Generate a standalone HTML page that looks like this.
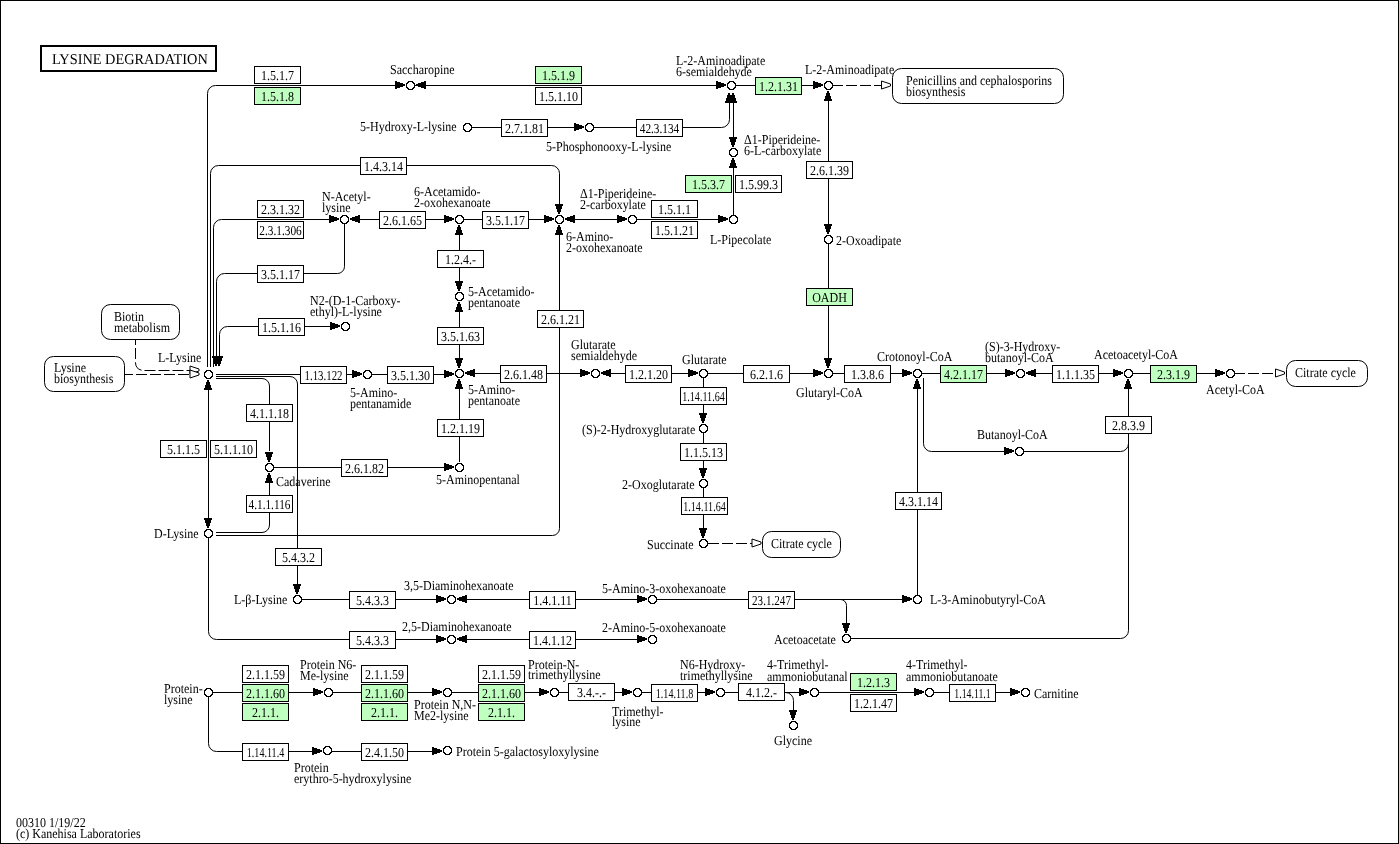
<!DOCTYPE html><html><head><meta charset="utf-8"><style>html,body{margin:0;padding:0;background:#fff;overflow:hidden}svg{display:block;will-change:transform}text{font-family:"Liberation Serif",serif;font-size:13.6px;fill:#000;text-rendering:geometricPrecision}</style></head><body>
<svg width="1399" height="844" viewBox="0 0 1399 844">
<rect x="0" y="0" width="1399" height="844" fill="#fff"/>
<rect x="0.5" y="0.5" width="1398" height="843" fill="none" stroke="#000" stroke-width="1"/>
<rect x="41" y="46" width="175" height="25" fill="none" stroke="#000" stroke-width="2"/>
<text transform="translate(52,64) scale(0.955,1)" style="font-size:15px">LYSINE DEGRADATION</text>
<g fill="none" stroke="#000" stroke-width="1">
<path d="M207.5,367 V93.5 A8,8 0 0 1 215.5,85.5 H396"/>
<path d="M210.5,367 V173.5 A8,8 0 0 1 218.5,165.5 H551.5 A8,8 0 0 1 559.5,173.5 V204"/>
<path d="M213.5,367 V227.5 A8,8 0 0 1 221.5,219.5 H330"/>
<path d="M216.5,358 V281.5 A8,8 0 0 1 224.5,273.5 H337.5 A7,7 0 0 0 344.5,266.5 V224"/>
<path d="M219.5,358 V334.5 A8,8 0 0 1 227.5,326.5 H331"/>
<path d="M415,85.5 H716"/>
<path d="M736,85.5 H813"/>
<path d="M472,127.5 H580"/>
<path d="M594,127.5 H721.5 A8,8 0 0 0 729.5,119.5 V101"/>
<path d="M733.5,101 V137"/>
<path d="M733.5,215 V167"/>
<path d="M574,219.5 H617"/>
<path d="M636.5,219.5 H718"/>
<path d="M360,219.5 H444"/>
<path d="M464,219.5 H544"/>
<path d="M459.5,234 V281"/>
<path d="M459.5,311 V358"/>
<path d="M216,374.5 H352"/>
<path d="M372,374.5 H444"/>
<path d="M474,373.5 H580"/>
<path d="M609,373.5 H688"/>
<path d="M708,373.5 H813"/>
<path d="M828.5,244 V358"/>
<path d="M828.5,100 V224"/>
<path d="M833,373.5 H902"/>
<path d="M922,373.5 H1005"/>
<path d="M1034,373.5 H1113"/>
<path d="M1133,373.5 H1215"/>
<path d="M923.5,378 V443.5 A8,8 0 0 0 931.5,451.5 H1004"/>
<path d="M1024,451.5 H1120.5 A8,8 0 0 0 1128.5,443.5 V388"/>
<path d="M851,638.5 H1120.5 A8,8 0 0 0 1128.5,630.5 V443"/>
<path d="M917.5,595 V388"/>
<path d="M703.5,378 V414"/>
<path d="M703.5,433 V469"/>
<path d="M703.5,488 V529"/>
<path d="M208.5,390 V518"/>
<path d="M216,378.5 H262 A7.5,7.5 0 0 1 269.5,386 V451"/>
<path d="M216,532.5 H262 A7.5,7.5 0 0 0 269.5,525 V483"/>
<path d="M274,467.5 H444"/>
<path d="M459.5,462 V389"/>
<path d="M216,376.5 H290 A7.5,7.5 0 0 1 297.5,384 V584"/>
<path d="M216,535.5 H552.5 A7,7 0 0 0 559.5,528.5 V234"/>
<path d="M302,599.5 H436"/>
<path d="M466,599.5 H637"/>
<path d="M657,599.5 H902"/>
<path d="M840.5,599.5 A6,6 0 0 1 846.5,605.5 V623"/>
<path d="M208.5,538 V631.5 A8,8 0 0 0 216.5,639.5 H436"/>
<path d="M466,639.5 H637"/>
<path d="M213,692.5 H313.5"/>
<path d="M333,692.5 H432.5"/>
<path d="M452,692.5 H539.5"/>
<path d="M559,692.5 H622.5"/>
<path d="M642,692.5 H705.5"/>
<path d="M725,692.5 H799.5"/>
<path d="M819,692.5 H914.5"/>
<path d="M934,692.5 H1010.5"/>
<path d="M785.5,692.5 A8,8 0 0 1 793.5,700.5 V710"/>
<path d="M208.5,697 V743.5 A8,8 0 0 0 216.5,751.5 H312"/>
<path d="M332,751.5 H432"/>
</g>
<g fill="none" stroke="#000" stroke-width="1" stroke-dasharray="11,3">
<path d="M832,85.5 H882"/>
<path d="M1234,373.5 H1276"/>
<path d="M708,543.5 H752.5"/>
<path d="M135.5,334 V362.5 A8,8 0 0 0 143.5,370.5 H190"/>
<path d="M122,374.5 H190"/>
</g>
<g fill="#000" shape-rendering="crispEdges">
<polygon points="212.00,356.00 220.00,356.00 217.00,366.00 215.00,366.00"/>
<polygon points="215.00,356.00 223.00,356.00 220.00,366.00 218.00,366.00"/>
<polygon points="395.00,81.00 395.00,89.00 405.00,86.00 405.00,84.00"/>
<polygon points="426.00,81.00 426.00,89.00 416.00,86.00 416.00,84.00"/>
<polygon points="716.00,81.00 716.00,89.00 726.00,86.00 726.00,84.00"/>
<polygon points="813.00,81.00 813.00,89.00 823.00,86.00 823.00,84.00"/>
<polygon points="574.00,123.00 574.00,131.00 584.00,128.00 584.00,126.00"/>
<polygon points="725.00,103.00 733.00,103.00 730.00,93.00 728.00,93.00"/>
<polygon points="729.00,103.00 737.00,103.00 734.00,93.00 732.00,93.00"/>
<polygon points="729.00,137.00 737.00,137.00 734.00,147.00 732.00,147.00"/>
<polygon points="729.00,168.00 737.00,168.00 734.00,158.00 732.00,158.00"/>
<polygon points="555.00,204.00 563.00,204.00 560.00,214.00 558.00,214.00"/>
<polygon points="575.00,215.00 575.00,223.00 565.00,220.00 565.00,218.00"/>
<polygon points="617.00,215.00 617.00,223.00 627.00,220.00 627.00,218.00"/>
<polygon points="718.00,215.00 718.00,223.00 728.00,220.00 728.00,218.00"/>
<polygon points="329.00,215.00 329.00,223.00 339.00,220.00 339.00,218.00"/>
<polygon points="360.00,215.00 360.00,223.00 350.00,220.00 350.00,218.00"/>
<polygon points="444.00,215.00 444.00,223.00 454.00,220.00 454.00,218.00"/>
<polygon points="544.00,215.00 544.00,223.00 554.00,220.00 554.00,218.00"/>
<polygon points="455.00,235.00 463.00,235.00 460.00,225.00 458.00,225.00"/>
<polygon points="455.00,281.00 463.00,281.00 460.00,291.00 458.00,291.00"/>
<polygon points="455.00,312.00 463.00,312.00 460.00,302.00 458.00,302.00"/>
<polygon points="455.00,358.00 463.00,358.00 460.00,368.00 458.00,368.00"/>
<polygon points="330.00,322.00 330.00,330.00 340.00,327.00 340.00,325.00"/>
<polygon points="352.00,370.00 352.00,378.00 362.00,375.00 362.00,373.00"/>
<polygon points="444.00,370.00 444.00,378.00 454.00,375.00 454.00,373.00"/>
<polygon points="475.00,369.00 475.00,377.00 465.00,374.00 465.00,372.00"/>
<polygon points="580.00,369.00 580.00,377.00 590.00,374.00 590.00,372.00"/>
<polygon points="611.00,369.00 611.00,377.00 601.00,374.00 601.00,372.00"/>
<polygon points="688.00,369.00 688.00,377.00 698.00,374.00 698.00,372.00"/>
<polygon points="813.00,369.00 813.00,377.00 823.00,374.00 823.00,372.00"/>
<polygon points="824.00,358.00 832.00,358.00 829.00,368.00 827.00,368.00"/>
<polygon points="824.00,101.00 832.00,101.00 829.00,91.00 827.00,91.00"/>
<polygon points="824.00,224.00 832.00,224.00 829.00,234.00 827.00,234.00"/>
<polygon points="902.00,369.00 902.00,377.00 912.00,374.00 912.00,372.00"/>
<polygon points="1005.00,369.00 1005.00,377.00 1015.00,374.00 1015.00,372.00"/>
<polygon points="1036.00,369.00 1036.00,377.00 1026.00,374.00 1026.00,372.00"/>
<polygon points="1113.00,369.00 1113.00,377.00 1123.00,374.00 1123.00,372.00"/>
<polygon points="1215.00,369.00 1215.00,377.00 1225.00,374.00 1225.00,372.00"/>
<polygon points="1004.00,447.00 1004.00,455.00 1014.00,452.00 1014.00,450.00"/>
<polygon points="1124.00,389.00 1132.00,389.00 1129.00,379.00 1127.00,379.00"/>
<polygon points="913.00,389.00 921.00,389.00 918.00,379.00 916.00,379.00"/>
<polygon points="699.00,413.00 707.00,413.00 704.00,423.00 702.00,423.00"/>
<polygon points="699.00,468.00 707.00,468.00 704.00,478.00 702.00,478.00"/>
<polygon points="699.00,528.00 707.00,528.00 704.00,538.00 702.00,538.00"/>
<polygon points="204.00,390.00 212.00,390.00 209.00,380.00 207.00,380.00"/>
<polygon points="204.00,518.00 212.00,518.00 209.00,528.00 207.00,528.00"/>
<polygon points="265.00,452.00 273.00,452.00 270.00,462.00 268.00,462.00"/>
<polygon points="265.00,483.00 273.00,483.00 270.00,473.00 268.00,473.00"/>
<polygon points="444.00,463.00 444.00,471.00 454.00,468.00 454.00,466.00"/>
<polygon points="455.00,389.00 463.00,389.00 460.00,379.00 458.00,379.00"/>
<polygon points="293.00,584.00 301.00,584.00 298.00,594.00 296.00,594.00"/>
<polygon points="555.00,235.00 563.00,235.00 560.00,225.00 558.00,225.00"/>
<polygon points="436.00,595.00 436.00,603.00 446.00,600.00 446.00,598.00"/>
<polygon points="467.00,595.00 467.00,603.00 457.00,600.00 457.00,598.00"/>
<polygon points="637.00,595.00 637.00,603.00 647.00,600.00 647.00,598.00"/>
<polygon points="902.00,595.00 902.00,603.00 912.00,600.00 912.00,598.00"/>
<polygon points="842.00,623.00 850.00,623.00 847.00,633.00 845.00,633.00"/>
<polygon points="436.00,635.00 436.00,643.00 446.00,640.00 446.00,638.00"/>
<polygon points="467.00,635.00 467.00,643.00 457.00,640.00 457.00,638.00"/>
<polygon points="637.00,635.00 637.00,643.00 647.00,640.00 647.00,638.00"/>
<polygon points="313.00,688.00 313.00,696.00 323.00,693.00 323.00,691.00"/>
<polygon points="432.00,688.00 432.00,696.00 442.00,693.00 442.00,691.00"/>
<polygon points="539.00,688.00 539.00,696.00 549.00,693.00 549.00,691.00"/>
<polygon points="622.00,688.00 622.00,696.00 632.00,693.00 632.00,691.00"/>
<polygon points="705.00,688.00 705.00,696.00 715.00,693.00 715.00,691.00"/>
<polygon points="799.00,688.00 799.00,696.00 809.00,693.00 809.00,691.00"/>
<polygon points="914.00,688.00 914.00,696.00 924.00,693.00 924.00,691.00"/>
<polygon points="1010.00,688.00 1010.00,696.00 1020.00,693.00 1020.00,691.00"/>
<polygon points="789.00,710.00 797.00,710.00 794.00,720.00 792.00,720.00"/>
<polygon points="312.00,747.00 312.00,755.00 322.00,752.00 322.00,750.00"/>
<polygon points="432.00,747.00 432.00,755.00 442.00,752.00 442.00,750.00"/>
</g>
<g fill="#fff" stroke="#000" stroke-width="1">
<polygon points="881.50,81.00 881.50,89.00 890.50,86.00 890.50,84.00"/>
<polygon points="1275.50,369.00 1275.50,377.00 1284.50,374.00 1284.50,372.00"/>
<polygon points="752.00,539.00 752.00,547.00 761.00,544.00 761.00,542.00"/>
<polygon points="190.00,366.00 190.00,374.00 199.00,371.00 199.00,369.00"/>
<polygon points="190.00,370.00 190.00,378.00 199.00,375.00 199.00,373.00"/>
<rect x="892.5" y="68.5" width="171.0" height="35.0" rx="9" ry="9"/>
<rect x="101.5" y="304.5" width="78.0" height="35.0" rx="9" ry="9"/>
<rect x="44.5" y="356.5" width="80.0" height="35.0" rx="9" ry="9"/>
<rect x="1286.5" y="360.5" width="81.0" height="26.0" rx="9" ry="9"/>
<rect x="762.5" y="531.5" width="78.0" height="26.0" rx="9" ry="9"/>
</g>
<g stroke="#000" stroke-width="1" shape-rendering="crispEdges">
<rect x="254.5" y="66.5" width="46" height="17" fill="#fff"/>
<rect x="254.5" y="87.5" width="46" height="17" fill="#bfffbf"/>
<rect x="535.5" y="66.5" width="46" height="17" fill="#bfffbf"/>
<rect x="535.5" y="87.5" width="46" height="17" fill="#fff"/>
<rect x="755.5" y="77.5" width="46" height="17" fill="#bfffbf"/>
<rect x="501.5" y="119.5" width="46" height="17" fill="#fff"/>
<rect x="636.5" y="119.5" width="46" height="17" fill="#fff"/>
<rect x="360.5" y="157.5" width="46" height="17" fill="#fff"/>
<rect x="685.5" y="175.5" width="46" height="17" fill="#bfffbf"/>
<rect x="735.5" y="175.5" width="46" height="17" fill="#fff"/>
<rect x="651.5" y="200.5" width="46" height="17" fill="#fff"/>
<rect x="651.5" y="221.5" width="46" height="17" fill="#fff"/>
<rect x="806.5" y="161.5" width="46" height="17" fill="#fff"/>
<rect x="257.5" y="200.5" width="46" height="17" fill="#fff"/>
<rect x="257.5" y="221.5" width="46" height="17" fill="#fff"/>
<rect x="257.5" y="265.5" width="46" height="17" fill="#fff"/>
<rect x="258.5" y="318.5" width="46" height="17" fill="#fff"/>
<rect x="379.5" y="211.5" width="46" height="17" fill="#fff"/>
<rect x="482.5" y="211.5" width="46" height="17" fill="#fff"/>
<rect x="437.5" y="250.5" width="46" height="17" fill="#fff"/>
<rect x="437.5" y="327.5" width="46" height="17" fill="#fff"/>
<rect x="387.5" y="366.5" width="46" height="17" fill="#fff"/>
<rect x="300.5" y="366.5" width="46" height="17" fill="#fff"/>
<rect x="537.5" y="310.5" width="46" height="17" fill="#fff"/>
<rect x="500.5" y="365.5" width="46" height="17" fill="#fff"/>
<rect x="625.5" y="365.5" width="46" height="17" fill="#fff"/>
<rect x="806.5" y="288.5" width="46" height="17" fill="#bfffbf"/>
<rect x="743.5" y="365.5" width="46" height="17" fill="#fff"/>
<rect x="844.5" y="365.5" width="46" height="17" fill="#fff"/>
<rect x="940.5" y="365.5" width="46" height="17" fill="#bfffbf"/>
<rect x="1052.5" y="365.5" width="46" height="17" fill="#fff"/>
<rect x="1150.5" y="365.5" width="46" height="17" fill="#bfffbf"/>
<rect x="1105.5" y="416.5" width="46" height="17" fill="#fff"/>
<rect x="680.5" y="387.5" width="46" height="17" fill="#fff"/>
<rect x="680.5" y="443.5" width="46" height="17" fill="#fff"/>
<rect x="681.5" y="497.5" width="46" height="17" fill="#fff"/>
<rect x="895.5" y="492.5" width="46" height="17" fill="#fff"/>
<rect x="246.5" y="404.5" width="46" height="17" fill="#fff"/>
<rect x="160.5" y="440.5" width="46" height="17" fill="#fff"/>
<rect x="210.5" y="440.5" width="46" height="17" fill="#fff"/>
<rect x="341.5" y="459.5" width="46" height="17" fill="#fff"/>
<rect x="437.5" y="419.5" width="46" height="17" fill="#fff"/>
<rect x="246.5" y="495.5" width="46" height="17" fill="#fff"/>
<rect x="275.5" y="548.5" width="46" height="17" fill="#fff"/>
<rect x="349.5" y="591.5" width="46" height="17" fill="#fff"/>
<rect x="529.5" y="591.5" width="46" height="17" fill="#fff"/>
<rect x="748.5" y="591.5" width="46" height="17" fill="#fff"/>
<rect x="349.5" y="631.5" width="46" height="17" fill="#fff"/>
<rect x="529.5" y="631.5" width="46" height="17" fill="#fff"/>
<rect x="242.5" y="665.5" width="46" height="17" fill="#fff"/>
<rect x="242.5" y="684.5" width="46" height="17" fill="#bfffbf"/>
<rect x="242.5" y="703.5" width="46" height="17" fill="#bfffbf"/>
<rect x="361.5" y="665.5" width="46" height="17" fill="#fff"/>
<rect x="361.5" y="684.5" width="46" height="17" fill="#bfffbf"/>
<rect x="361.5" y="703.5" width="46" height="17" fill="#bfffbf"/>
<rect x="478.5" y="665.5" width="46" height="17" fill="#fff"/>
<rect x="478.5" y="684.5" width="46" height="17" fill="#bfffbf"/>
<rect x="478.5" y="703.5" width="46" height="17" fill="#bfffbf"/>
<rect x="242.5" y="743.5" width="46" height="17" fill="#fff"/>
<rect x="361.5" y="743.5" width="46" height="17" fill="#fff"/>
<rect x="568.5" y="683.5" width="46" height="17" fill="#fff"/>
<rect x="651.5" y="684.5" width="46" height="17" fill="#fff"/>
<rect x="738.5" y="683.5" width="46" height="17" fill="#fff"/>
<rect x="850.5" y="673.5" width="46" height="17" fill="#bfffbf"/>
<rect x="850.5" y="694.5" width="46" height="17" fill="#fff"/>
<rect x="949.5" y="684.5" width="46" height="17" fill="#fff"/>
</g>
<g shape-rendering="crispEdges">
<g transform="translate(410,85)"><rect x="-3" y="-3" width="7" height="7" fill="#fff"/><path fill="#000" d="M-2,-4h5v1h-5z M-3,-3h2v1h-2z M2,-3h2v1h-2z M-4,-2h2v1h-2z M3,-2h2v1h-2z M-4,-1h1v3h-1z M4,-1h1v3h-1z M-4,2h2v1h-2z M3,2h2v1h-2z M-3,3h2v1h-2z M2,3h2v1h-2z M-2,4h5v1h-5z"/></g>
<g transform="translate(467,127)"><rect x="-3" y="-3" width="7" height="7" fill="#fff"/><path fill="#000" d="M-2,-4h5v1h-5z M-3,-3h2v1h-2z M2,-3h2v1h-2z M-4,-2h2v1h-2z M3,-2h2v1h-2z M-4,-1h1v3h-1z M4,-1h1v3h-1z M-4,2h2v1h-2z M3,2h2v1h-2z M-3,3h2v1h-2z M2,3h2v1h-2z M-2,4h5v1h-5z"/></g>
<g transform="translate(589,127)"><rect x="-3" y="-3" width="7" height="7" fill="#fff"/><path fill="#000" d="M-2,-4h5v1h-5z M-3,-3h2v1h-2z M2,-3h2v1h-2z M-4,-2h2v1h-2z M3,-2h2v1h-2z M-4,-1h1v3h-1z M4,-1h1v3h-1z M-4,2h2v1h-2z M3,2h2v1h-2z M-3,3h2v1h-2z M2,3h2v1h-2z M-2,4h5v1h-5z"/></g>
<g transform="translate(731,85)"><rect x="-3" y="-3" width="7" height="7" fill="#fff"/><path fill="#000" d="M-2,-4h5v1h-5z M-3,-3h2v1h-2z M2,-3h2v1h-2z M-4,-2h2v1h-2z M3,-2h2v1h-2z M-4,-1h1v3h-1z M4,-1h1v3h-1z M-4,2h2v1h-2z M3,2h2v1h-2z M-3,3h2v1h-2z M2,3h2v1h-2z M-2,4h5v1h-5z"/></g>
<g transform="translate(828,85)"><rect x="-3" y="-3" width="7" height="7" fill="#fff"/><path fill="#000" d="M-2,-4h5v1h-5z M-3,-3h2v1h-2z M2,-3h2v1h-2z M-4,-2h2v1h-2z M3,-2h2v1h-2z M-4,-1h1v3h-1z M4,-1h1v3h-1z M-4,2h2v1h-2z M3,2h2v1h-2z M-3,3h2v1h-2z M2,3h2v1h-2z M-2,4h5v1h-5z"/></g>
<g transform="translate(733,152)"><rect x="-3" y="-3" width="7" height="7" fill="#fff"/><path fill="#000" d="M-2,-4h5v1h-5z M-3,-3h2v1h-2z M2,-3h2v1h-2z M-4,-2h2v1h-2z M3,-2h2v1h-2z M-4,-1h1v3h-1z M4,-1h1v3h-1z M-4,2h2v1h-2z M3,2h2v1h-2z M-3,3h2v1h-2z M2,3h2v1h-2z M-2,4h5v1h-5z"/></g>
<g transform="translate(733,219)"><rect x="-3" y="-3" width="7" height="7" fill="#fff"/><path fill="#000" d="M-2,-4h5v1h-5z M-3,-3h2v1h-2z M2,-3h2v1h-2z M-4,-2h2v1h-2z M3,-2h2v1h-2z M-4,-1h1v3h-1z M4,-1h1v3h-1z M-4,2h2v1h-2z M3,2h2v1h-2z M-3,3h2v1h-2z M2,3h2v1h-2z M-2,4h5v1h-5z"/></g>
<g transform="translate(632,219)"><rect x="-3" y="-3" width="7" height="7" fill="#fff"/><path fill="#000" d="M-2,-4h5v1h-5z M-3,-3h2v1h-2z M2,-3h2v1h-2z M-4,-2h2v1h-2z M3,-2h2v1h-2z M-4,-1h1v3h-1z M4,-1h1v3h-1z M-4,2h2v1h-2z M3,2h2v1h-2z M-3,3h2v1h-2z M2,3h2v1h-2z M-2,4h5v1h-5z"/></g>
<g transform="translate(559,219)"><rect x="-3" y="-3" width="7" height="7" fill="#fff"/><path fill="#000" d="M-2,-4h5v1h-5z M-3,-3h2v1h-2z M2,-3h2v1h-2z M-4,-2h2v1h-2z M3,-2h2v1h-2z M-4,-1h1v3h-1z M4,-1h1v3h-1z M-4,2h2v1h-2z M3,2h2v1h-2z M-3,3h2v1h-2z M2,3h2v1h-2z M-2,4h5v1h-5z"/></g>
<g transform="translate(828,239)"><rect x="-3" y="-3" width="7" height="7" fill="#fff"/><path fill="#000" d="M-2,-4h5v1h-5z M-3,-3h2v1h-2z M2,-3h2v1h-2z M-4,-2h2v1h-2z M3,-2h2v1h-2z M-4,-1h1v3h-1z M4,-1h1v3h-1z M-4,2h2v1h-2z M3,2h2v1h-2z M-3,3h2v1h-2z M2,3h2v1h-2z M-2,4h5v1h-5z"/></g>
<g transform="translate(344,219)"><rect x="-3" y="-3" width="7" height="7" fill="#fff"/><path fill="#000" d="M-2,-4h5v1h-5z M-3,-3h2v1h-2z M2,-3h2v1h-2z M-4,-2h2v1h-2z M3,-2h2v1h-2z M-4,-1h1v3h-1z M4,-1h1v3h-1z M-4,2h2v1h-2z M3,2h2v1h-2z M-3,3h2v1h-2z M2,3h2v1h-2z M-2,4h5v1h-5z"/></g>
<g transform="translate(459,219)"><rect x="-3" y="-3" width="7" height="7" fill="#fff"/><path fill="#000" d="M-2,-4h5v1h-5z M-3,-3h2v1h-2z M2,-3h2v1h-2z M-4,-2h2v1h-2z M3,-2h2v1h-2z M-4,-1h1v3h-1z M4,-1h1v3h-1z M-4,2h2v1h-2z M3,2h2v1h-2z M-3,3h2v1h-2z M2,3h2v1h-2z M-2,4h5v1h-5z"/></g>
<g transform="translate(459,296)"><rect x="-3" y="-3" width="7" height="7" fill="#fff"/><path fill="#000" d="M-2,-4h5v1h-5z M-3,-3h2v1h-2z M2,-3h2v1h-2z M-4,-2h2v1h-2z M3,-2h2v1h-2z M-4,-1h1v3h-1z M4,-1h1v3h-1z M-4,2h2v1h-2z M3,2h2v1h-2z M-3,3h2v1h-2z M2,3h2v1h-2z M-2,4h5v1h-5z"/></g>
<g transform="translate(345,326)"><rect x="-3" y="-3" width="7" height="7" fill="#fff"/><path fill="#000" d="M-2,-4h5v1h-5z M-3,-3h2v1h-2z M2,-3h2v1h-2z M-4,-2h2v1h-2z M3,-2h2v1h-2z M-4,-1h1v3h-1z M4,-1h1v3h-1z M-4,2h2v1h-2z M3,2h2v1h-2z M-3,3h2v1h-2z M2,3h2v1h-2z M-2,4h5v1h-5z"/></g>
<g transform="translate(208,374)"><rect x="-3" y="-3" width="7" height="7" fill="#fff"/><path fill="#000" d="M-2,-4h5v1h-5z M-3,-3h2v1h-2z M2,-3h2v1h-2z M-4,-2h2v1h-2z M3,-2h2v1h-2z M-4,-1h1v3h-1z M4,-1h1v3h-1z M-4,2h2v1h-2z M3,2h2v1h-2z M-3,3h2v1h-2z M2,3h2v1h-2z M-2,4h5v1h-5z"/></g>
<g transform="translate(367,374)"><rect x="-3" y="-3" width="7" height="7" fill="#fff"/><path fill="#000" d="M-2,-4h5v1h-5z M-3,-3h2v1h-2z M2,-3h2v1h-2z M-4,-2h2v1h-2z M3,-2h2v1h-2z M-4,-1h1v3h-1z M4,-1h1v3h-1z M-4,2h2v1h-2z M3,2h2v1h-2z M-3,3h2v1h-2z M2,3h2v1h-2z M-2,4h5v1h-5z"/></g>
<g transform="translate(459,373)"><rect x="-3" y="-3" width="7" height="7" fill="#fff"/><path fill="#000" d="M-2,-4h5v1h-5z M-3,-3h2v1h-2z M2,-3h2v1h-2z M-4,-2h2v1h-2z M3,-2h2v1h-2z M-4,-1h1v3h-1z M4,-1h1v3h-1z M-4,2h2v1h-2z M3,2h2v1h-2z M-3,3h2v1h-2z M2,3h2v1h-2z M-2,4h5v1h-5z"/></g>
<g transform="translate(595,373)"><rect x="-3" y="-3" width="7" height="7" fill="#fff"/><path fill="#000" d="M-2,-4h5v1h-5z M-3,-3h2v1h-2z M2,-3h2v1h-2z M-4,-2h2v1h-2z M3,-2h2v1h-2z M-4,-1h1v3h-1z M4,-1h1v3h-1z M-4,2h2v1h-2z M3,2h2v1h-2z M-3,3h2v1h-2z M2,3h2v1h-2z M-2,4h5v1h-5z"/></g>
<g transform="translate(703,373)"><rect x="-3" y="-3" width="7" height="7" fill="#fff"/><path fill="#000" d="M-2,-4h5v1h-5z M-3,-3h2v1h-2z M2,-3h2v1h-2z M-4,-2h2v1h-2z M3,-2h2v1h-2z M-4,-1h1v3h-1z M4,-1h1v3h-1z M-4,2h2v1h-2z M3,2h2v1h-2z M-3,3h2v1h-2z M2,3h2v1h-2z M-2,4h5v1h-5z"/></g>
<g transform="translate(828,373)"><rect x="-3" y="-3" width="7" height="7" fill="#fff"/><path fill="#000" d="M-2,-4h5v1h-5z M-3,-3h2v1h-2z M2,-3h2v1h-2z M-4,-2h2v1h-2z M3,-2h2v1h-2z M-4,-1h1v3h-1z M4,-1h1v3h-1z M-4,2h2v1h-2z M3,2h2v1h-2z M-3,3h2v1h-2z M2,3h2v1h-2z M-2,4h5v1h-5z"/></g>
<g transform="translate(917,373)"><rect x="-3" y="-3" width="7" height="7" fill="#fff"/><path fill="#000" d="M-2,-4h5v1h-5z M-3,-3h2v1h-2z M2,-3h2v1h-2z M-4,-2h2v1h-2z M3,-2h2v1h-2z M-4,-1h1v3h-1z M4,-1h1v3h-1z M-4,2h2v1h-2z M3,2h2v1h-2z M-3,3h2v1h-2z M2,3h2v1h-2z M-2,4h5v1h-5z"/></g>
<g transform="translate(1020,373)"><rect x="-3" y="-3" width="7" height="7" fill="#fff"/><path fill="#000" d="M-2,-4h5v1h-5z M-3,-3h2v1h-2z M2,-3h2v1h-2z M-4,-2h2v1h-2z M3,-2h2v1h-2z M-4,-1h1v3h-1z M4,-1h1v3h-1z M-4,2h2v1h-2z M3,2h2v1h-2z M-3,3h2v1h-2z M2,3h2v1h-2z M-2,4h5v1h-5z"/></g>
<g transform="translate(1128,373)"><rect x="-3" y="-3" width="7" height="7" fill="#fff"/><path fill="#000" d="M-2,-4h5v1h-5z M-3,-3h2v1h-2z M2,-3h2v1h-2z M-4,-2h2v1h-2z M3,-2h2v1h-2z M-4,-1h1v3h-1z M4,-1h1v3h-1z M-4,2h2v1h-2z M3,2h2v1h-2z M-3,3h2v1h-2z M2,3h2v1h-2z M-2,4h5v1h-5z"/></g>
<g transform="translate(1230,373)"><rect x="-3" y="-3" width="7" height="7" fill="#fff"/><path fill="#000" d="M-2,-4h5v1h-5z M-3,-3h2v1h-2z M2,-3h2v1h-2z M-4,-2h2v1h-2z M3,-2h2v1h-2z M-4,-1h1v3h-1z M4,-1h1v3h-1z M-4,2h2v1h-2z M3,2h2v1h-2z M-3,3h2v1h-2z M2,3h2v1h-2z M-2,4h5v1h-5z"/></g>
<g transform="translate(1019,451)"><rect x="-3" y="-3" width="7" height="7" fill="#fff"/><path fill="#000" d="M-2,-4h5v1h-5z M-3,-3h2v1h-2z M2,-3h2v1h-2z M-4,-2h2v1h-2z M3,-2h2v1h-2z M-4,-1h1v3h-1z M4,-1h1v3h-1z M-4,2h2v1h-2z M3,2h2v1h-2z M-3,3h2v1h-2z M2,3h2v1h-2z M-2,4h5v1h-5z"/></g>
<g transform="translate(703,428)"><rect x="-3" y="-3" width="7" height="7" fill="#fff"/><path fill="#000" d="M-2,-4h5v1h-5z M-3,-3h2v1h-2z M2,-3h2v1h-2z M-4,-2h2v1h-2z M3,-2h2v1h-2z M-4,-1h1v3h-1z M4,-1h1v3h-1z M-4,2h2v1h-2z M3,2h2v1h-2z M-3,3h2v1h-2z M2,3h2v1h-2z M-2,4h5v1h-5z"/></g>
<g transform="translate(703,483)"><rect x="-3" y="-3" width="7" height="7" fill="#fff"/><path fill="#000" d="M-2,-4h5v1h-5z M-3,-3h2v1h-2z M2,-3h2v1h-2z M-4,-2h2v1h-2z M3,-2h2v1h-2z M-4,-1h1v3h-1z M4,-1h1v3h-1z M-4,2h2v1h-2z M3,2h2v1h-2z M-3,3h2v1h-2z M2,3h2v1h-2z M-2,4h5v1h-5z"/></g>
<g transform="translate(703,543)"><rect x="-3" y="-3" width="7" height="7" fill="#fff"/><path fill="#000" d="M-2,-4h5v1h-5z M-3,-3h2v1h-2z M2,-3h2v1h-2z M-4,-2h2v1h-2z M3,-2h2v1h-2z M-4,-1h1v3h-1z M4,-1h1v3h-1z M-4,2h2v1h-2z M3,2h2v1h-2z M-3,3h2v1h-2z M2,3h2v1h-2z M-2,4h5v1h-5z"/></g>
<g transform="translate(269,467)"><rect x="-3" y="-3" width="7" height="7" fill="#fff"/><path fill="#000" d="M-2,-4h5v1h-5z M-3,-3h2v1h-2z M2,-3h2v1h-2z M-4,-2h2v1h-2z M3,-2h2v1h-2z M-4,-1h1v3h-1z M4,-1h1v3h-1z M-4,2h2v1h-2z M3,2h2v1h-2z M-3,3h2v1h-2z M2,3h2v1h-2z M-2,4h5v1h-5z"/></g>
<g transform="translate(459,467)"><rect x="-3" y="-3" width="7" height="7" fill="#fff"/><path fill="#000" d="M-2,-4h5v1h-5z M-3,-3h2v1h-2z M2,-3h2v1h-2z M-4,-2h2v1h-2z M3,-2h2v1h-2z M-4,-1h1v3h-1z M4,-1h1v3h-1z M-4,2h2v1h-2z M3,2h2v1h-2z M-3,3h2v1h-2z M2,3h2v1h-2z M-2,4h5v1h-5z"/></g>
<g transform="translate(208,533)"><rect x="-3" y="-3" width="7" height="7" fill="#fff"/><path fill="#000" d="M-2,-4h5v1h-5z M-3,-3h2v1h-2z M2,-3h2v1h-2z M-4,-2h2v1h-2z M3,-2h2v1h-2z M-4,-1h1v3h-1z M4,-1h1v3h-1z M-4,2h2v1h-2z M3,2h2v1h-2z M-3,3h2v1h-2z M2,3h2v1h-2z M-2,4h5v1h-5z"/></g>
<g transform="translate(297,599)"><rect x="-3" y="-3" width="7" height="7" fill="#fff"/><path fill="#000" d="M-2,-4h5v1h-5z M-3,-3h2v1h-2z M2,-3h2v1h-2z M-4,-2h2v1h-2z M3,-2h2v1h-2z M-4,-1h1v3h-1z M4,-1h1v3h-1z M-4,2h2v1h-2z M3,2h2v1h-2z M-3,3h2v1h-2z M2,3h2v1h-2z M-2,4h5v1h-5z"/></g>
<g transform="translate(451,599)"><rect x="-3" y="-3" width="7" height="7" fill="#fff"/><path fill="#000" d="M-2,-4h5v1h-5z M-3,-3h2v1h-2z M2,-3h2v1h-2z M-4,-2h2v1h-2z M3,-2h2v1h-2z M-4,-1h1v3h-1z M4,-1h1v3h-1z M-4,2h2v1h-2z M3,2h2v1h-2z M-3,3h2v1h-2z M2,3h2v1h-2z M-2,4h5v1h-5z"/></g>
<g transform="translate(652,599)"><rect x="-3" y="-3" width="7" height="7" fill="#fff"/><path fill="#000" d="M-2,-4h5v1h-5z M-3,-3h2v1h-2z M2,-3h2v1h-2z M-4,-2h2v1h-2z M3,-2h2v1h-2z M-4,-1h1v3h-1z M4,-1h1v3h-1z M-4,2h2v1h-2z M3,2h2v1h-2z M-3,3h2v1h-2z M2,3h2v1h-2z M-2,4h5v1h-5z"/></g>
<g transform="translate(917,599)"><rect x="-3" y="-3" width="7" height="7" fill="#fff"/><path fill="#000" d="M-2,-4h5v1h-5z M-3,-3h2v1h-2z M2,-3h2v1h-2z M-4,-2h2v1h-2z M3,-2h2v1h-2z M-4,-1h1v3h-1z M4,-1h1v3h-1z M-4,2h2v1h-2z M3,2h2v1h-2z M-3,3h2v1h-2z M2,3h2v1h-2z M-2,4h5v1h-5z"/></g>
<g transform="translate(451,639)"><rect x="-3" y="-3" width="7" height="7" fill="#fff"/><path fill="#000" d="M-2,-4h5v1h-5z M-3,-3h2v1h-2z M2,-3h2v1h-2z M-4,-2h2v1h-2z M3,-2h2v1h-2z M-4,-1h1v3h-1z M4,-1h1v3h-1z M-4,2h2v1h-2z M3,2h2v1h-2z M-3,3h2v1h-2z M2,3h2v1h-2z M-2,4h5v1h-5z"/></g>
<g transform="translate(652,639)"><rect x="-3" y="-3" width="7" height="7" fill="#fff"/><path fill="#000" d="M-2,-4h5v1h-5z M-3,-3h2v1h-2z M2,-3h2v1h-2z M-4,-2h2v1h-2z M3,-2h2v1h-2z M-4,-1h1v3h-1z M4,-1h1v3h-1z M-4,2h2v1h-2z M3,2h2v1h-2z M-3,3h2v1h-2z M2,3h2v1h-2z M-2,4h5v1h-5z"/></g>
<g transform="translate(846,638)"><rect x="-3" y="-3" width="7" height="7" fill="#fff"/><path fill="#000" d="M-2,-4h5v1h-5z M-3,-3h2v1h-2z M2,-3h2v1h-2z M-4,-2h2v1h-2z M3,-2h2v1h-2z M-4,-1h1v3h-1z M4,-1h1v3h-1z M-4,2h2v1h-2z M3,2h2v1h-2z M-3,3h2v1h-2z M2,3h2v1h-2z M-2,4h5v1h-5z"/></g>
<g transform="translate(208,692)"><rect x="-3" y="-3" width="7" height="7" fill="#fff"/><path fill="#000" d="M-2,-4h5v1h-5z M-3,-3h2v1h-2z M2,-3h2v1h-2z M-4,-2h2v1h-2z M3,-2h2v1h-2z M-4,-1h1v3h-1z M4,-1h1v3h-1z M-4,2h2v1h-2z M3,2h2v1h-2z M-3,3h2v1h-2z M2,3h2v1h-2z M-2,4h5v1h-5z"/></g>
<g transform="translate(328,692)"><rect x="-3" y="-3" width="7" height="7" fill="#fff"/><path fill="#000" d="M-2,-4h5v1h-5z M-3,-3h2v1h-2z M2,-3h2v1h-2z M-4,-2h2v1h-2z M3,-2h2v1h-2z M-4,-1h1v3h-1z M4,-1h1v3h-1z M-4,2h2v1h-2z M3,2h2v1h-2z M-3,3h2v1h-2z M2,3h2v1h-2z M-2,4h5v1h-5z"/></g>
<g transform="translate(447,692)"><rect x="-3" y="-3" width="7" height="7" fill="#fff"/><path fill="#000" d="M-2,-4h5v1h-5z M-3,-3h2v1h-2z M2,-3h2v1h-2z M-4,-2h2v1h-2z M3,-2h2v1h-2z M-4,-1h1v3h-1z M4,-1h1v3h-1z M-4,2h2v1h-2z M3,2h2v1h-2z M-3,3h2v1h-2z M2,3h2v1h-2z M-2,4h5v1h-5z"/></g>
<g transform="translate(554,692)"><rect x="-3" y="-3" width="7" height="7" fill="#fff"/><path fill="#000" d="M-2,-4h5v1h-5z M-3,-3h2v1h-2z M2,-3h2v1h-2z M-4,-2h2v1h-2z M3,-2h2v1h-2z M-4,-1h1v3h-1z M4,-1h1v3h-1z M-4,2h2v1h-2z M3,2h2v1h-2z M-3,3h2v1h-2z M2,3h2v1h-2z M-2,4h5v1h-5z"/></g>
<g transform="translate(637,692)"><rect x="-3" y="-3" width="7" height="7" fill="#fff"/><path fill="#000" d="M-2,-4h5v1h-5z M-3,-3h2v1h-2z M2,-3h2v1h-2z M-4,-2h2v1h-2z M3,-2h2v1h-2z M-4,-1h1v3h-1z M4,-1h1v3h-1z M-4,2h2v1h-2z M3,2h2v1h-2z M-3,3h2v1h-2z M2,3h2v1h-2z M-2,4h5v1h-5z"/></g>
<g transform="translate(720,692)"><rect x="-3" y="-3" width="7" height="7" fill="#fff"/><path fill="#000" d="M-2,-4h5v1h-5z M-3,-3h2v1h-2z M2,-3h2v1h-2z M-4,-2h2v1h-2z M3,-2h2v1h-2z M-4,-1h1v3h-1z M4,-1h1v3h-1z M-4,2h2v1h-2z M3,2h2v1h-2z M-3,3h2v1h-2z M2,3h2v1h-2z M-2,4h5v1h-5z"/></g>
<g transform="translate(814,692)"><rect x="-3" y="-3" width="7" height="7" fill="#fff"/><path fill="#000" d="M-2,-4h5v1h-5z M-3,-3h2v1h-2z M2,-3h2v1h-2z M-4,-2h2v1h-2z M3,-2h2v1h-2z M-4,-1h1v3h-1z M4,-1h1v3h-1z M-4,2h2v1h-2z M3,2h2v1h-2z M-3,3h2v1h-2z M2,3h2v1h-2z M-2,4h5v1h-5z"/></g>
<g transform="translate(793,725)"><rect x="-3" y="-3" width="7" height="7" fill="#fff"/><path fill="#000" d="M-2,-4h5v1h-5z M-3,-3h2v1h-2z M2,-3h2v1h-2z M-4,-2h2v1h-2z M3,-2h2v1h-2z M-4,-1h1v3h-1z M4,-1h1v3h-1z M-4,2h2v1h-2z M3,2h2v1h-2z M-3,3h2v1h-2z M2,3h2v1h-2z M-2,4h5v1h-5z"/></g>
<g transform="translate(929,692)"><rect x="-3" y="-3" width="7" height="7" fill="#fff"/><path fill="#000" d="M-2,-4h5v1h-5z M-3,-3h2v1h-2z M2,-3h2v1h-2z M-4,-2h2v1h-2z M3,-2h2v1h-2z M-4,-1h1v3h-1z M4,-1h1v3h-1z M-4,2h2v1h-2z M3,2h2v1h-2z M-3,3h2v1h-2z M2,3h2v1h-2z M-2,4h5v1h-5z"/></g>
<g transform="translate(1025,692)"><rect x="-3" y="-3" width="7" height="7" fill="#fff"/><path fill="#000" d="M-2,-4h5v1h-5z M-3,-3h2v1h-2z M2,-3h2v1h-2z M-4,-2h2v1h-2z M3,-2h2v1h-2z M-4,-1h1v3h-1z M4,-1h1v3h-1z M-4,2h2v1h-2z M3,2h2v1h-2z M-3,3h2v1h-2z M2,3h2v1h-2z M-2,4h5v1h-5z"/></g>
<g transform="translate(327,750)"><rect x="-3" y="-3" width="7" height="7" fill="#fff"/><path fill="#000" d="M-2,-4h5v1h-5z M-3,-3h2v1h-2z M2,-3h2v1h-2z M-4,-2h2v1h-2z M3,-2h2v1h-2z M-4,-1h1v3h-1z M4,-1h1v3h-1z M-4,2h2v1h-2z M3,2h2v1h-2z M-3,3h2v1h-2z M2,3h2v1h-2z M-2,4h5v1h-5z"/></g>
<g transform="translate(447,750)"><rect x="-3" y="-3" width="7" height="7" fill="#fff"/><path fill="#000" d="M-2,-4h5v1h-5z M-3,-3h2v1h-2z M2,-3h2v1h-2z M-4,-2h2v1h-2z M3,-2h2v1h-2z M-4,-1h1v3h-1z M4,-1h1v3h-1z M-4,2h2v1h-2z M3,2h2v1h-2z M-3,3h2v1h-2z M2,3h2v1h-2z M-2,4h5v1h-5z"/></g>
</g>
<g>
<text transform="translate(277.5,80) scale(0.8824,1.0)" text-anchor="middle" style="font-size:13.6px">1.5.1.7</text>
<text transform="translate(277.5,101) scale(0.8824,1.0)" text-anchor="middle" style="font-size:13.6px">1.5.1.8</text>
<text transform="translate(558.5,80) scale(0.8824,1.0)" text-anchor="middle" style="font-size:13.6px">1.5.1.9</text>
<text transform="translate(558.5,101) scale(0.8824,1.0)" text-anchor="middle" style="font-size:13.6px">1.5.1.10</text>
<text transform="translate(778.5,91) scale(0.8824,1.0)" text-anchor="middle" style="font-size:13.6px">1.2.1.31</text>
<text transform="translate(524.5,133) scale(0.8824,1.0)" text-anchor="middle" style="font-size:13.6px">2.7.1.81</text>
<text transform="translate(659.5,133) scale(0.8298,1.0)" text-anchor="middle" style="font-size:13.6px">42.3.134</text>
<text transform="translate(383.5,171) scale(0.8824,1.0)" text-anchor="middle" style="font-size:13.6px">1.4.3.14</text>
<text transform="translate(708.5,189) scale(0.8824,1.0)" text-anchor="middle" style="font-size:13.6px">1.5.3.7</text>
<text transform="translate(758.5,189) scale(0.8824,1.0)" text-anchor="middle" style="font-size:13.6px">1.5.99.3</text>
<text transform="translate(674.5,214) scale(0.8824,1.0)" text-anchor="middle" style="font-size:13.6px">1.5.1.1</text>
<text transform="translate(674.5,235) scale(0.8824,1.0)" text-anchor="middle" style="font-size:13.6px">1.5.1.21</text>
<text transform="translate(829.5,175) scale(0.8824,1.0)" text-anchor="middle" style="font-size:13.6px">2.6.1.39</text>
<text transform="translate(280.5,214) scale(0.8824,1.0)" text-anchor="middle" style="font-size:13.6px">2.3.1.32</text>
<text transform="translate(280.5,235) scale(0.8333,1.0)" text-anchor="middle" style="font-size:13.6px">2.3.1.306</text>
<text transform="translate(280.5,279) scale(0.8824,1.0)" text-anchor="middle" style="font-size:13.6px">3.5.1.17</text>
<text transform="translate(281.5,332) scale(0.8824,1.0)" text-anchor="middle" style="font-size:13.6px">1.5.1.16</text>
<text transform="translate(402.5,225) scale(0.8824,1.0)" text-anchor="middle" style="font-size:13.6px">2.6.1.65</text>
<text transform="translate(505.5,225) scale(0.8824,1.0)" text-anchor="middle" style="font-size:13.6px">3.5.1.17</text>
<text transform="translate(460.5,264) scale(0.8824,1.0)" text-anchor="middle" style="font-size:13.6px">1.2.4.-</text>
<text transform="translate(460.5,341) scale(0.8824,1.0)" text-anchor="middle" style="font-size:13.6px">3.5.1.63</text>
<text transform="translate(410.5,380) scale(0.8824,1.0)" text-anchor="middle" style="font-size:13.6px">3.5.1.30</text>
<text transform="translate(323.5,380) scale(0.7983,1.0)" text-anchor="middle" style="font-size:13.6px">1.13.122</text>
<text transform="translate(560.5,324) scale(0.8824,1.0)" text-anchor="middle" style="font-size:13.6px">2.6.1.21</text>
<text transform="translate(523.5,379) scale(0.8824,1.0)" text-anchor="middle" style="font-size:13.6px">2.6.1.48</text>
<text transform="translate(648.5,379) scale(0.8824,1.0)" text-anchor="middle" style="font-size:13.6px">1.2.1.20</text>
<text transform="translate(829.5,302) scale(0.8824,1.0)" text-anchor="middle" style="font-size:13.6px">OADH</text>
<text transform="translate(766.5,379) scale(0.8824,1.0)" text-anchor="middle" style="font-size:13.6px">6.2.1.6</text>
<text transform="translate(867.5,379) scale(0.8824,1.0)" text-anchor="middle" style="font-size:13.6px">1.3.8.6</text>
<text transform="translate(963.5,379) scale(0.8824,1.0)" text-anchor="middle" style="font-size:13.6px">4.2.1.17</text>
<text transform="translate(1075.5,379) scale(0.8824,1.0)" text-anchor="middle" style="font-size:13.6px">1.1.1.35</text>
<text transform="translate(1173.5,379) scale(0.8824,1.0)" text-anchor="middle" style="font-size:13.6px">2.3.1.9</text>
<text transform="translate(1128.5,430) scale(0.8824,1.0)" text-anchor="middle" style="font-size:13.6px">2.8.3.9</text>
<text transform="translate(703.5,401) scale(0.7416,1.0)" text-anchor="middle" style="font-size:13.6px">1.14.11.64</text>
<text transform="translate(703.5,457) scale(0.8824,1.0)" text-anchor="middle" style="font-size:13.6px">1.1.5.13</text>
<text transform="translate(704.5,511) scale(0.7416,1.0)" text-anchor="middle" style="font-size:13.6px">1.14.11.64</text>
<text transform="translate(918.5,506) scale(0.8824,1.0)" text-anchor="middle" style="font-size:13.6px">4.3.1.14</text>
<text transform="translate(269.5,418) scale(0.8824,1.0)" text-anchor="middle" style="font-size:13.6px">4.1.1.18</text>
<text transform="translate(183.5,454) scale(0.8824,1.0)" text-anchor="middle" style="font-size:13.6px">5.1.1.5</text>
<text transform="translate(233.5,454) scale(0.8824,1.0)" text-anchor="middle" style="font-size:13.6px">5.1.1.10</text>
<text transform="translate(364.5,473) scale(0.8824,1.0)" text-anchor="middle" style="font-size:13.6px">2.6.1.82</text>
<text transform="translate(460.5,433) scale(0.8824,1.0)" text-anchor="middle" style="font-size:13.6px">1.2.1.19</text>
<text transform="translate(269.5,509) scale(0.8315,1.0)" text-anchor="middle" style="font-size:13.6px">4.1.1.116</text>
<text transform="translate(298.5,562) scale(0.8824,1.0)" text-anchor="middle" style="font-size:13.6px">5.4.3.2</text>
<text transform="translate(372.5,605) scale(0.8824,1.0)" text-anchor="middle" style="font-size:13.6px">5.4.3.3</text>
<text transform="translate(552.5,605) scale(0.8824,1.0)" text-anchor="middle" style="font-size:13.6px">1.4.1.11</text>
<text transform="translate(771.5,605) scale(0.8193,1.0)" text-anchor="middle" style="font-size:13.6px">23.1.247</text>
<text transform="translate(372.5,645) scale(0.8824,1.0)" text-anchor="middle" style="font-size:13.6px">5.4.3.3</text>
<text transform="translate(552.5,645) scale(0.8824,1.0)" text-anchor="middle" style="font-size:13.6px">1.4.1.12</text>
<text transform="translate(265.5,679) scale(0.8824,1.0)" text-anchor="middle" style="font-size:13.6px">2.1.1.59</text>
<text transform="translate(265.5,698) scale(0.8824,1.0)" text-anchor="middle" style="font-size:13.6px">2.1.1.60</text>
<text transform="translate(265.5,717) scale(0.8824,1.0)" text-anchor="middle" style="font-size:13.6px">2.1.1.</text>
<text transform="translate(384.5,679) scale(0.8824,1.0)" text-anchor="middle" style="font-size:13.6px">2.1.1.59</text>
<text transform="translate(384.5,698) scale(0.8824,1.0)" text-anchor="middle" style="font-size:13.6px">2.1.1.60</text>
<text transform="translate(384.5,717) scale(0.8824,1.0)" text-anchor="middle" style="font-size:13.6px">2.1.1.</text>
<text transform="translate(501.5,679) scale(0.8824,1.0)" text-anchor="middle" style="font-size:13.6px">2.1.1.59</text>
<text transform="translate(501.5,698) scale(0.8824,1.0)" text-anchor="middle" style="font-size:13.6px">2.1.1.60</text>
<text transform="translate(501.5,717) scale(0.8824,1.0)" text-anchor="middle" style="font-size:13.6px">2.1.1.</text>
<text transform="translate(265.5,757) scale(0.7424,1.0)" text-anchor="middle" style="font-size:13.6px">1.14.11.4</text>
<text transform="translate(384.5,757) scale(0.8824,1.0)" text-anchor="middle" style="font-size:13.6px">2.4.1.50</text>
<text transform="translate(591.5,697) scale(0.8824,1.0)" text-anchor="middle" style="font-size:13.6px">3.4.-.-</text>
<text transform="translate(674.5,698) scale(0.7424,1.0)" text-anchor="middle" style="font-size:13.6px">1.14.11.8</text>
<text transform="translate(761.5,697) scale(0.8824,1.0)" text-anchor="middle" style="font-size:13.6px">4.1.2.-</text>
<text transform="translate(873.5,687) scale(0.8824,1.0)" text-anchor="middle" style="font-size:13.6px">1.2.1.3</text>
<text transform="translate(873.5,708) scale(0.8824,1.0)" text-anchor="middle" style="font-size:13.6px">1.2.1.47</text>
<text transform="translate(972.5,698) scale(0.7226,1.0)" text-anchor="middle" style="font-size:13.6px">1.14.11.1</text>
<text transform="translate(390,74) scale(0.8824,1.0)">Saccharopine</text>
<text transform="translate(360,131) scale(0.8824,1.0)">5-Hydroxy-L-lysine</text>
<text transform="translate(546,151) scale(0.8824,1.0)">5-Phosphonooxy-L-lysine</text>
<text transform="translate(676,65) scale(0.8824,1.0)">L-2-Aminoadipate</text>
<text transform="translate(676,76) scale(0.8824,1.0)">6-semialdehyde</text>
<text transform="translate(805,74) scale(0.8824,1.0)">L-2-Aminoadipate</text>
<text transform="translate(744,144) scale(0.8824,1.0)">Δ1-Piperideine-</text>
<text transform="translate(744,155) scale(0.8824,1.0)">6-L-carboxylate</text>
<text transform="translate(710,244) scale(0.8824,1.0)">L-Pipecolate</text>
<text transform="translate(580,198) scale(0.8824,1.0)">Δ1-Piperideine-</text>
<text transform="translate(580,209) scale(0.8824,1.0)">2-carboxylate</text>
<text transform="translate(566,241) scale(0.8824,1.0)">6-Amino-</text>
<text transform="translate(566,252) scale(0.8824,1.0)">2-oxohexanoate</text>
<text transform="translate(836,245) scale(0.8824,1.0)">2-Oxoadipate</text>
<text transform="translate(906,85) scale(0.8824,1.0)">Penicillins and cephalosporins</text>
<text transform="translate(906,96) scale(0.8824,1.0)">biosynthesis</text>
<text transform="translate(322,201) scale(0.8824,1.0)">N-Acetyl-</text>
<text transform="translate(322,212) scale(0.8824,1.0)">lysine</text>
<text transform="translate(414,196) scale(0.8824,1.0)">6-Acetamido-</text>
<text transform="translate(414,207) scale(0.8824,1.0)">2-oxohexanoate</text>
<text transform="translate(468,296) scale(0.8824,1.0)">5-Acetamido-</text>
<text transform="translate(468,307) scale(0.8824,1.0)">pentanoate</text>
<text transform="translate(310,305) scale(0.8824,1.0)">N2-(D-1-Carboxy-</text>
<text transform="translate(310,316) scale(0.8824,1.0)">ethyl)-L-lysine</text>
<text transform="translate(114,321) scale(0.8824,1.0)">Biotin</text>
<text transform="translate(114,332) scale(0.8824,1.0)">metabolism</text>
<text transform="translate(54,372) scale(0.8824,1.0)">Lysine</text>
<text transform="translate(54,383) scale(0.8824,1.0)">biosynthesis</text>
<text transform="translate(158,362) scale(0.8824,1.0)">L-Lysine</text>
<text transform="translate(154,538) scale(0.8824,1.0)">D-Lysine</text>
<text transform="translate(276,486) scale(0.8824,1.0)">Cadaverine</text>
<text transform="translate(350,397) scale(0.8824,1.0)">5-Amino-</text>
<text transform="translate(350,408) scale(0.8824,1.0)">pentanamide</text>
<text transform="translate(468,394) scale(0.8824,1.0)">5-Amino-</text>
<text transform="translate(468,405) scale(0.8824,1.0)">pentanoate</text>
<text transform="translate(436,484) scale(0.8824,1.0)">5-Aminopentanal</text>
<text transform="translate(571,349) scale(0.8824,1.0)">Glutarate</text>
<text transform="translate(571,360) scale(0.8824,1.0)">semialdehyde</text>
<text transform="translate(682,364) scale(0.8824,1.0)">Glutarate</text>
<text transform="translate(796,397) scale(0.8824,1.0)">Glutaryl-CoA</text>
<text transform="translate(877,361) scale(0.8824,1.0)">Crotonoyl-CoA</text>
<text transform="translate(985,351) scale(0.8824,1.0)">(S)-3-Hydroxy-</text>
<text transform="translate(985,362) scale(0.8824,1.0)">butanoyl-CoA</text>
<text transform="translate(1094,359) scale(0.8824,1.0)">Acetoacetyl-CoA</text>
<text transform="translate(1206,394) scale(0.8824,1.0)">Acetyl-CoA</text>
<text transform="translate(1295,377) scale(0.8824,1.0)">Citrate cycle</text>
<text transform="translate(977,439) scale(0.8824,1.0)">Butanoyl-CoA</text>
<text transform="translate(582,434) scale(0.8824,1.0)">(S)-2-Hydroxyglutarate</text>
<text transform="translate(622,489) scale(0.8824,1.0)">2-Oxoglutarate</text>
<text transform="translate(647,549) scale(0.8824,1.0)">Succinate</text>
<text transform="translate(771,548) scale(0.8824,1.0)">Citrate cycle</text>
<text transform="translate(234,604) scale(0.8824,1.0)">L-β-Lysine</text>
<text transform="translate(404,590) scale(0.8824,1.0)">3,5-Diaminohexanoate</text>
<text transform="translate(602,593) scale(0.8824,1.0)">5-Amino-3-oxohexanoate</text>
<text transform="translate(930,604) scale(0.8824,1.0)">L-3-Aminobutyryl-CoA</text>
<text transform="translate(402,631) scale(0.8824,1.0)">2,5-Diaminohexanoate</text>
<text transform="translate(602,632) scale(0.8824,1.0)">2-Amino-5-oxohexanoate</text>
<text transform="translate(774,644) scale(0.8824,1.0)">Acetoacetate</text>
<text transform="translate(164,693) scale(0.8824,1.0)">Protein-</text>
<text transform="translate(164,704) scale(0.8824,1.0)">lysine</text>
<text transform="translate(300,669) scale(0.8824,1.0)">Protein N6-</text>
<text transform="translate(300,680) scale(0.8824,1.0)">Me-lysine</text>
<text transform="translate(414,709) scale(0.8824,1.0)">Protein N,N-</text>
<text transform="translate(414,720) scale(0.8824,1.0)">Me2-lysine</text>
<text transform="translate(528,669) scale(0.8824,1.0)">Protein-N-</text>
<text transform="translate(528,679) scale(0.8824,1.0)">trimethyllysine</text>
<text transform="translate(612,716) scale(0.8824,1.0)">Trimethyl-</text>
<text transform="translate(612,726) scale(0.8824,1.0)">lysine</text>
<text transform="translate(680,669) scale(0.8824,1.0)">N6-Hydroxy-</text>
<text transform="translate(680,680) scale(0.8824,1.0)">trimethyllysine</text>
<text transform="translate(767,669) scale(0.8824,1.0)">4-Trimethyl-</text>
<text transform="translate(767,681) scale(0.8824,1.0)">ammoniobutanal</text>
<text transform="translate(774,745) scale(0.8824,1.0)">Glycine</text>
<text transform="translate(906,669) scale(0.8824,1.0)">4-Trimethyl-</text>
<text transform="translate(906,681) scale(0.8824,1.0)">ammoniobutanoate</text>
<text transform="translate(1034,698) scale(0.8824,1.0)">Carnitine</text>
<text transform="translate(456,756) scale(0.8824,1.0)">Protein 5-galactosyloxylysine</text>
<text transform="translate(294,772) scale(0.8824,1.0)">Protein</text>
<text transform="translate(294,783) scale(0.8824,1.0)">erythro-5-hydroxylysine</text>
<text transform="translate(16,827) scale(0.8824,1.0)">00310 1/19/22</text>
<text transform="translate(16,838) scale(0.8824,1.0)">(c) Kanehisa Laboratories</text>
</g>
</svg></body></html>
